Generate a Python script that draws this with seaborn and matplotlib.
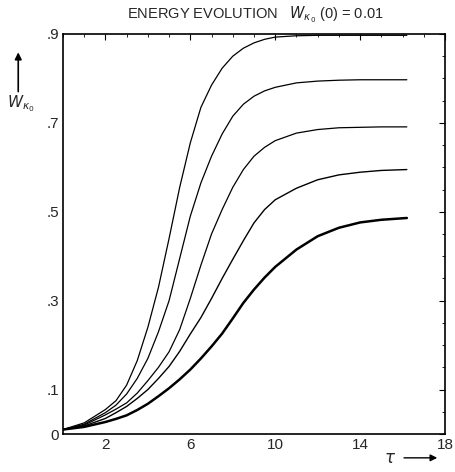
import numpy as np
import pandas as pd
import matplotlib
matplotlib.use("Agg")
import matplotlib.pyplot as plt
import seaborn as sns

# time values (tau) shared by all curves
tau = [0, 1, 2, 2.5, 3, 3.5, 4, 4.5, 5, 5.5, 6, 6.5, 7, 7.5, 8, 8.5,
       9, 9.5, 10, 11, 12, 13, 14, 15, 16.2]

# energy curves, read from top to bottom
w_top = [0.01, 0.025, 0.055, 0.075, 0.11, 0.165, 0.24, 0.33, 0.44, 0.555, 0.655, 0.735,
         0.785, 0.823, 0.85, 0.868, 0.88, 0.888, 0.893, 0.896, 0.897, 0.897, 0.897, 0.897, 0.897]
w_2 = [0.01, 0.022, 0.048, 0.065, 0.09, 0.125, 0.17, 0.23, 0.30, 0.395, 0.49, 0.565,
       0.625, 0.675, 0.715, 0.742, 0.76, 0.772, 0.78, 0.79, 0.794, 0.796, 0.797, 0.797, 0.797]
w_3 = [0.01, 0.02, 0.043, 0.056, 0.07, 0.092, 0.12, 0.15, 0.185, 0.235, 0.305, 0.38,
       0.45, 0.505, 0.555, 0.595, 0.625, 0.645, 0.66, 0.677, 0.685, 0.689, 0.69, 0.691, 0.691]
w_4 = [0.01, 0.018, 0.035, 0.048, 0.062, 0.08, 0.10, 0.125, 0.152, 0.186, 0.225, 0.262,
       0.305, 0.35, 0.393, 0.435, 0.475, 0.505, 0.527, 0.553, 0.572, 0.583, 0.589, 0.593, 0.595]
w_5 = [0.01, 0.016, 0.027, 0.034, 0.042, 0.054, 0.068, 0.085, 0.103, 0.123, 0.145, 0.17,
       0.197, 0.226, 0.26, 0.295, 0.325, 0.352, 0.376, 0.415, 0.445, 0.464, 0.476, 0.482, 0.486]

curves = [w_top, w_2, w_3, w_4, w_5]
widths = [0.9, 0.9, 0.9, 1.0, 1.8]

x_ticks = [2, 6, 10, 14, 18]
y_ticks = [0, 0.1, 0.3, 0.5, 0.7, 0.9]
y_labels = ["0", ".1", ".3", ".5", ".7", ".9"]

sns.set_style("white")
plt.rcParams["font.family"] = ["Liberation Sans", "DejaVu Sans"]

fig = plt.figure(figsize=(4.56, 4.72), dpi=100)
ax = fig.add_axes([0.138, 0.0805, 0.838, 0.8475])

for vals, lw in zip(curves, widths):
    df = pd.DataFrame({"tau": tau, "W": vals})
    sns.lineplot(data=df, x="tau", y="W", color="black", linewidth=lw, ax=ax)

ax.set_xlim(0, 18)
ax.set_ylim(0, 0.9)
ax.set_xticks(x_ticks)
ax.set_xticks(np.arange(0, 19, 1), minor=True)
ax.set_yticks(y_ticks)
ax.set_yticklabels(y_labels)
ax.set_yticks(np.arange(0, 0.91, 0.05), minor=True)
ax.tick_params(which="both", direction="in", top=True, right=True, color="black")
ax.tick_params(which="major", length=4, width=0.8, labelsize=11, pad=3)
ax.tick_params(which="minor", length=2, width=0.6)
ax.set_xlabel("")
ax.set_ylabel("")
for s in ax.spines.values():
    s.set_color("black")
    s.set_linewidth(1.2)

fig.text(0.56, 0.968, r"ENERGY EVOLUTION   $W_{\kappa_0}$ (0) = 0.01",
         ha="center", va="center", fontsize=10.5)

# y axis label with upward arrow
fig.text(0.045, 0.78, r"$W_{\kappa_0}$", ha="center", va="center", fontsize=11)
ax.annotate("", xy=(0.04, 0.895), xytext=(0.04, 0.8), xycoords="figure fraction",
            arrowprops=dict(arrowstyle="-|>", color="black", lw=1.2))

# x axis label with rightward arrow
fig.text(0.855, 0.012, r"$\tau$", ha="center", va="bottom", fontsize=12)
ax.annotate("", xy=(0.965, 0.03), xytext=(0.88, 0.03), xycoords="figure fraction",
            arrowprops=dict(arrowstyle="-|>", color="black", lw=1.0))

fig.savefig("out.png", dpi=100, facecolor="white")
